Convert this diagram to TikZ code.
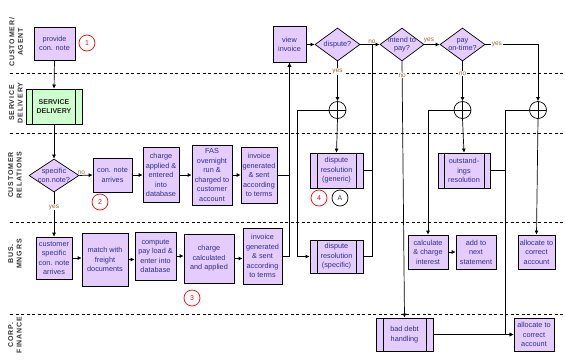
\documentclass[tikz,border=0pt]{standalone}
\usepackage{fontspec}
\setmainfont{Liberation Sans}
\newfontfamily\lanefont[LetterSpace=12]{Liberation Sans}
\usepackage{tikz}
\usetikzlibrary{positioning, calc, arrows.meta, shapes.geometric}
\definecolor{boxfill}{RGB}{229,204,255}
\definecolor{sdfill}{RGB}{204,255,204}
\definecolor{boxtext}{RGB}{45,45,140}
\definecolor{yesno}{RGB}{150,105,50}

\begin{document}
\begin{tikzpicture}[x=1pt, y=-1pt, line width=0.7pt,
    arr/.style={-{Latex[length=4pt,width=4pt]}},
    task/.style={draw, fill=boxfill, text=boxtext, align=center, inner sep=1pt,
      font=\fontsize{7.3}{9.5}\selectfont},
    subproc/.style={task, path picture={
      \draw ([xshift=#1]path picture bounding box.north west) -- ([xshift=#1]path picture bounding box.south west);
      \draw ([xshift=-#1]path picture bounding box.north east) -- ([xshift=-#1]path picture bounding box.south east);}},
    subproc/.default=7,
    decision/.style={diamond, draw, fill=boxfill, inner sep=0pt},
    dtext/.style={text=boxtext, align=center, font=\fontsize{7.3}{8.5}\selectfont},
    gate/.style={circle, draw, fill=white, minimum size=17pt, inner sep=0pt, path picture={
      \draw (path picture bounding box.north) -- (path picture bounding box.south)
            (path picture bounding box.west) -- (path picture bounding box.east);}},
    refmark/.style={circle, draw=red, text=red, minimum size=16pt, inner sep=0pt,
      font=\fontsize{7}{8}\selectfont},
    yn/.style={text=yesno, inner sep=1pt, font=\fontsize{6.5}{7}\selectfont},
    lane/.style={rotate=90, align=center, text=black!80, font=\lanefont\bfseries\fontsize{7}{8.5}\selectfont},
    swim/.style={dashed, dash pattern=on 3pt off 2.5pt, line width=0.6pt}]

    \useasboundingbox (0,0) rectangle (565,362);

    % Swim lane separators and lane titles
    \foreach \ly in {73,133,222,314}
        \draw[swim] (10,\ly) -- (565,\ly);
    \node[lane] (laneCA) at (16,42) {CUSTOMER/\\AGENT};
    \node[lane] (laneSD) at (16,103) {SERVICE\\DELIVERY};
    \node[lane] (laneCR) at (15,175) {CUSTOMER\\RELATIONS};
    \node[lane] (laneBM) at (15,254) {BUS.\\MNGRS};
    \node[lane] (laneCF) at (15,335) {CORP.\\FINANCE};

    % Customer / agent lane
    \node[task, minimum width=41pt, minimum height=33pt] (provide) at (54.5,43.5) {provide\\con. note};
    \node[refmark] (m1) at (87,43) {1};
    \node[task, minimum width=33pt, minimum height=36pt] (view) at (289.5,44.5) {view\\invoice};
    \node[decision, minimum width=45pt, minimum height=33pt,
          label={[dtext]center:dispute?}] (dispute) at (337.5,44.5) {};
    \node[decision, minimum width=44pt, minimum height=33pt,
          label={[dtext]center:intend to\\pay?}] (intend) at (402,44.5) {};
    \node[decision, minimum width=45pt, minimum height=33pt,
          label={[dtext]center:pay\\on-time?}] (paytime) at (462.5,44.5) {};

    % Service delivery lane
    \node[subproc=6.5, fill=sdfill, text=black!85, minimum width=56pt, minimum height=35pt,
          font=\bfseries\fontsize{7}{9.5}\selectfont] (service) at (54,106.5) {SERVICE\\DELIVERY};
    \node[gate] (gw1) at (337.5,110) {};
    \node[gate] (gw2) at (462.5,110) {};
    \node[gate] (gw3) at (538,110) {};
    \coordinate (j1) at (372,44.5);
    \coordinate (j3) at (505,110);

    % Customer relations lane
    \node[decision, minimum width=50pt, minimum height=33pt,
          label={[dtext]center:specific\\con.note?}] (specific) at (54,175.5) {};
    \node[task, minimum width=39pt, minimum height=34pt] (arrives) at (112.5,175) {con. note\\arrives};
    \node[refmark] (m2) at (100,202) {2};
    \node[task, minimum width=36pt, minimum height=55pt] (chapplied) at (161,175) {charge\\applied \&\\entered\\into\\database};
    \node[task, minimum width=40pt, minimum height=60pt] (fas) at (212,175) {FAS\\overnight\\run \&\\charged to\\customer\\account};
    \node[task, minimum width=36pt, minimum height=56pt] (invcr) at (259,175) {invoice\\generated\\\& sent\\according\\to terms};
    \node[subproc, minimum width=53pt, minimum height=35pt] (generic) at (336.5,170.5) {dispute\\resolution\\(generic)};
    \node[refmark] (m4) at (319,198) {4};
    \node[refmark, draw=black, text=boxtext] (mA) at (340,198) {A};
    \node[subproc=6, minimum width=52pt, minimum height=35pt] (outst) at (464,170.5) {outstand-\\ings\\resolution};

    % Business managers lane
    \node[task, minimum width=36pt, minimum height=42pt] (custspec) at (54,258) {customer\\specific\\con. note\\arrives};
    \node[task, minimum width=46pt, minimum height=53pt] (match) at (105,259.5) {match with\\freight\\documents};
    \node[task, minimum width=41pt, minimum height=48pt] (compute) at (155.5,256) {compute\\pay load \&\\enter into\\database};
    \node[task, minimum width=50pt, minimum height=49pt] (chcalc) at (209,258.5) {charge\\calculated\\and applied};
    \node[refmark] (m3) at (192,298) {3};
    \node[task, minimum width=39pt, minimum height=56pt] (invbm) at (262.5,256) {invoice\\generated\\\& sent\\according\\to terms};
    \node[subproc, minimum width=53pt, minimum height=33pt] (specres) at (336.5,256.5) {dispute\\resolution\\(specific)};
    \node[task, minimum width=40pt, minimum height=34pt] (interest) at (428,252) {calculate\\\& charge\\interest};
    \node[task, minimum width=40pt, minimum height=34pt] (nextst) at (476,252) {add to\\next\\statement};
    \node[task, minimum width=37pt, minimum height=34pt] (allocbm) at (536.5,252) {allocate to\\correct\\account};

    % Corporate finance lane
    \node[subproc, minimum width=57pt, minimum height=33pt] (baddebt) at (404.5,334.5) {bad debt\\handling};
    \node[task, minimum width=40pt, minimum height=33pt] (alloccf) at (534,334.5) {allocate to\\correct\\account};

    % Entry flow down the left side
    \draw[arr] (provide.south) -- (service.north);
    \draw[arr] (service.south) -- (specific.north);
    \draw[arr] (specific.east) -- node[yn, above, pos=0.15] {no} (arrives.west);
    \draw[arr] (specific.south) -- node[yn, fill=white, pos=0.33] {yes} (custspec.north);

    % Customer relations chain
    \draw[arr] (arrives.east) -- (chapplied.west);
    \draw[arr] (chapplied.east) -- (fas.west);
    \draw[arr] (fas.east) -- (invcr.west);

    % Business managers chain
    \draw[arr] (custspec.east) -- (custspec.east -| match.west);
    \draw[arr] (match.east) -- (match.east -| compute.west);
    \draw[arr] (compute.east) -- (compute.east -| chcalc.west);
    \draw[arr] (chcalc.east) -- (chcalc.east -| invbm.west);

    % Invoices go to the customer
    \draw[arr] (invcr.east) -| (view.south);
    \draw[arr] (invbm.east) -| (view.south);
    \draw[arr] (view.east) -- (dispute.west);

    % Dispute handling
    \draw[arr] (dispute.east) -- node[yn, above, pos=0.6] {no} (intend.west);
    \draw[arr] (dispute.south) -- node[yn, fill=white, pos=0.25] {yes} (gw1.north);
    \draw[arr] (gw1.south) -- (generic.north);
    \draw[arr] (gw1.west) -- ++(-31,0) |- (specres.west);
    \draw (generic.east) -| (j1);
    \draw (specres.east) -| (j1);

    % Payment decisions
    \draw[arr] (intend.east) -- node[yn, above, pos=0.3] {yes} (paytime.west);
    \draw[arr] (intend.south) -- node[yn, fill=white, pos=0.055] {no} (baddebt.north);
    \draw[arr] (paytime.south) -- node[yn, fill=white, pos=0.3] {no} (gw2.north);
    \draw[arr] (paytime.east) -| node[yn, fill=white, pos=0.11] {yes} (gw3.north);

    % Outstanding amounts
    \draw[arr] (gw2.south) -- (outst.north);
    \draw[arr] (gw2.west) -| (interest.north);
    \draw[arr] (interest.east) -- (nextst.west);
    \draw[arr] (gw3.south) -- (allocbm.north);
    \draw[arr] (gw3.west) -- (j3) |- (alloccf.west);
    \draw (outst.east) -- (outst.east -| j3);
    \draw[arr] (baddebt.east) -- (alloccf.west);

\end{tikzpicture}
\end{document}
